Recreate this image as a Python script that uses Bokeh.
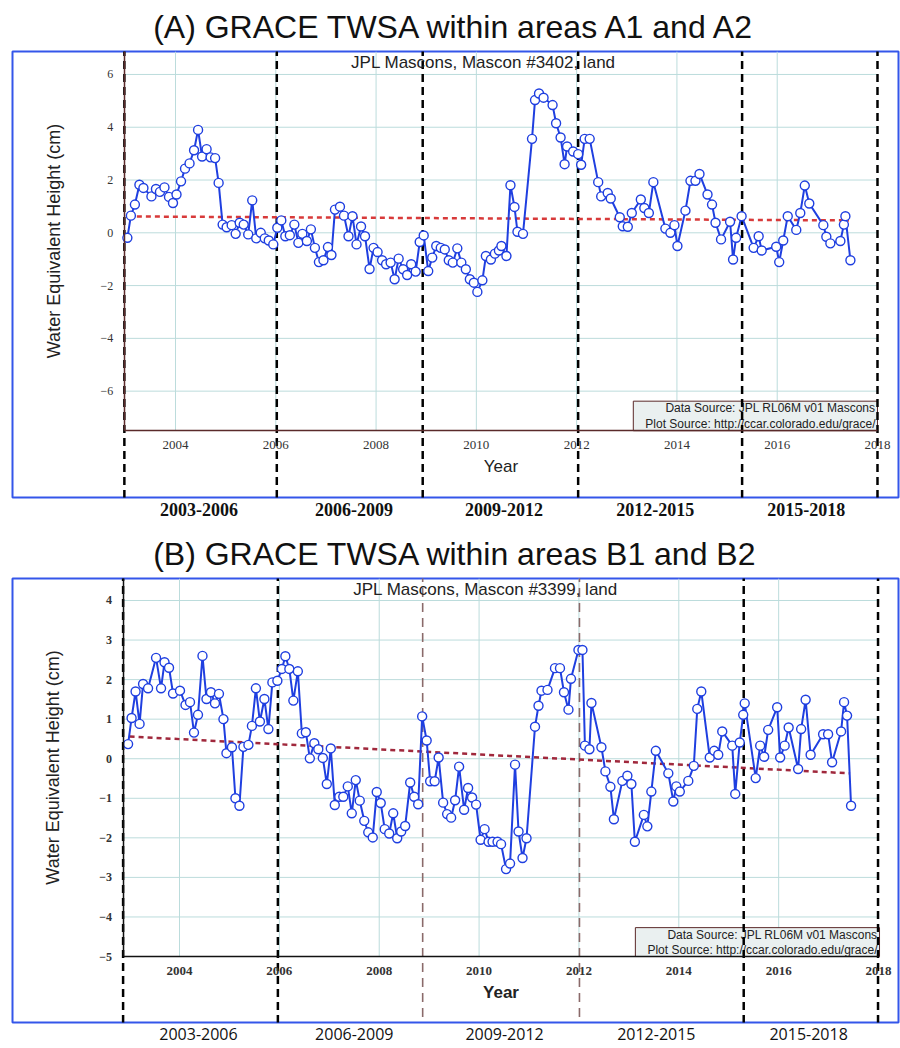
from bokeh.plotting import figure
from bokeh.models import Range1d, LinearAxis, FixedTicker
from bokeh.layouts import column
from bokeh.embed import file_html
from bokeh.resources import INLINE
from bokeh.core.properties import value

# ---------------- data: panel A (Mascon #3402) ----------------
a_year = [2003.04, 2003.11, 2003.19, 2003.28, 2003.36, 2003.52, 2003.61, 2003.69, 2003.78, 2003.87,
          2003.95, 2004.02, 2004.11, 2004.19, 2004.28, 2004.37, 2004.45, 2004.53, 2004.62, 2004.70,
          2004.79, 2004.86, 2004.94, 2005.02, 2005.12, 2005.20, 2005.28, 2005.36, 2005.45, 2005.53,
          2005.61, 2005.70, 2005.78, 2005.86, 2005.95, 2006.03, 2006.11, 2006.19, 2006.28, 2006.37,
          2006.45, 2006.53, 2006.62, 2006.70, 2006.78, 2006.86, 2006.95, 2007.04, 2007.11, 2007.18,
          2007.28, 2007.36, 2007.45, 2007.53, 2007.61, 2007.70, 2007.78, 2007.87, 2007.95, 2008.03,
          2008.12, 2008.20, 2008.29, 2008.37, 2008.45, 2008.54, 2008.62, 2008.70, 2008.79, 2008.87,
          2008.95, 2009.04, 2009.12, 2009.20, 2009.29, 2009.37, 2009.45, 2009.53, 2009.62, 2009.70,
          2009.79, 2009.87, 2009.95, 2010.02, 2010.12, 2010.19, 2010.29, 2010.37, 2010.45, 2010.50,
          2010.60, 2010.68, 2010.76, 2010.82, 2010.93, 2011.11, 2011.17, 2011.25, 2011.34, 2011.52,
          2011.59, 2011.68, 2011.76, 2011.81, 2011.93, 2012.03, 2012.09, 2012.16, 2012.26, 2012.43,
          2012.49, 2012.62, 2012.68, 2012.86, 2012.92, 2013.02, 2013.10, 2013.28, 2013.35, 2013.44,
          2013.53, 2013.77, 2013.87, 2013.95, 2014.01, 2014.17, 2014.27, 2014.37, 2014.45, 2014.61,
          2014.70, 2014.77, 2014.88, 2015.06, 2015.12, 2015.18, 2015.29, 2015.53, 2015.63, 2015.69,
          2015.98, 2016.04, 2016.12, 2016.21, 2016.38, 2016.46, 2016.55, 2016.64, 2016.92, 2016.98,
          2017.06, 2017.26, 2017.33, 2017.36, 2017.46]
a_twsa = [-0.19, 0.65, 1.07, 1.82, 1.70, 1.38, 1.66, 1.55, 1.72, 1.36,
          1.13, 1.45, 1.95, 2.43, 2.63, 3.13, 3.90, 2.89, 3.17, 2.86,
          2.83, 1.89, 0.31, 0.21, 0.29, -0.04, 0.38, 0.31, -0.06, 1.23,
          -0.21, 0.00, -0.21, -0.29, -0.44, 0.19, 0.47, -0.13, -0.09, 0.31,
          -0.38, -0.04, -0.31, 0.13, -0.57, -1.11, -1.04, -0.54, -0.84, 0.88,
          0.99, 0.65, -0.13, 0.63, -0.44, 0.24, -0.13, -1.37, -0.57, -0.73,
          -1.04, -1.19, -1.13, -1.76, -0.98, -1.38, -1.60, -1.19, -1.47, -0.35,
          -0.10, -1.45, -0.94, -0.50, -0.57, -0.63, -1.04, -1.13, -0.59, -1.13,
          -1.38, -1.76, -1.89, -2.24, -1.80, -0.88, -1.01, -0.79, -0.67, -0.50,
          -0.88, 1.80, 0.98, 0.04, -0.04, 3.56, 5.03, 5.28, 5.12, 4.84,
          4.15, 3.61, 2.60, 3.27, 3.08, 2.98, 2.58, 3.56, 3.56, 1.92,
          1.38, 1.51, 1.30, 0.59, 0.25, 0.23, 0.75, 1.26, 0.94, 0.75,
          1.92, 0.16, 0.00, 0.29, -0.50, 0.84, 1.97, 1.97, 2.23, 1.45,
          1.07, 0.38, -0.25, 0.42, -1.01, -0.19, 0.63, -0.57, -0.13, -0.67,
          -0.53, -1.11, -0.29, 0.63, 0.11, 0.75, 1.79, 1.11, 0.29, -0.15,
          -0.40, -0.31, 0.31, 0.63, -1.04]
a_trend_year = [2003.05, 2017.43]
a_trend = [0.62, 0.47]

# ---------------- data: panel B (Mascon #3399) ----------------
b_year = [2002.97, 2003.04, 2003.12, 2003.20, 2003.27, 2003.37, 2003.53, 2003.63, 2003.70, 2003.79,
          2003.87, 2004.01, 2004.12, 2004.21, 2004.29, 2004.37, 2004.46, 2004.54, 2004.63, 2004.71,
          2004.79, 2004.88, 2004.94, 2005.05, 2005.12, 2005.20, 2005.28, 2005.38, 2005.45, 2005.53,
          2005.61, 2005.70, 2005.78, 2005.86, 2005.96, 2006.05, 2006.12, 2006.20, 2006.28, 2006.37,
          2006.45, 2006.53, 2006.61, 2006.70, 2006.78, 2006.87, 2006.95, 2007.03, 2007.11, 2007.20,
          2007.28, 2007.37, 2007.45, 2007.53, 2007.61, 2007.70, 2007.78, 2007.87, 2007.95, 2008.03,
          2008.11, 2008.20, 2008.28, 2008.36, 2008.44, 2008.52, 2008.62, 2008.70, 2008.78, 2008.86,
          2008.95, 2009.02, 2009.11, 2009.19, 2009.28, 2009.36, 2009.44, 2009.52, 2009.60, 2009.70,
          2009.78, 2009.86, 2009.94, 2010.03, 2010.11, 2010.19, 2010.27, 2010.37, 2010.44, 2010.54,
          2010.62, 2010.72, 2010.79, 2010.87, 2010.95, 2011.12, 2011.19, 2011.25, 2011.37, 2011.52,
          2011.62, 2011.70, 2011.79, 2011.84, 2011.99, 2012.07, 2012.12, 2012.21, 2012.25, 2012.45,
          2012.53, 2012.63, 2012.70, 2012.87, 2012.97, 2013.05, 2013.12, 2013.30, 2013.37, 2013.45,
          2013.54, 2013.79, 2013.89, 2013.95, 2014.02, 2014.19, 2014.30, 2014.37, 2014.45, 2014.62,
          2014.71, 2014.79, 2014.87, 2015.07, 2015.13, 2015.22, 2015.29, 2015.32, 2015.54, 2015.63,
          2015.71, 2015.79, 2015.97, 2016.03, 2016.12, 2016.20, 2016.39, 2016.45, 2016.54, 2016.64,
          2016.89, 2016.99, 2017.07, 2017.25, 2017.31, 2017.37, 2017.45]
b_twsa = [0.37, 1.03, 1.70, 0.88, 1.89, 1.78, 2.55, 1.78, 2.44, 2.30,
          1.65, 1.72, 1.36, 1.43, 0.66, 1.11, 2.60, 1.51, 1.68, 1.40,
          1.64, 1.00, 0.14, 0.29, -1.00, -1.19, 0.30, 0.35, 0.83, 1.78,
          0.94, 1.51, 0.75, 1.93, 1.97, 2.27, 2.59, 2.27, 1.47, 2.21,
          0.64, 0.67, 0.01, 0.39, 0.24, 0.02, -0.64, 0.26, -1.17, -0.96,
          -0.96, -0.70, -1.38, -0.54, -1.06, -1.57, -1.86, -1.99, -0.84, -1.12,
          -1.78, -1.89, -1.38, -2.01, -1.84, -1.70, -0.60, -0.96, -1.15, 1.07,
          0.46, -0.57, -0.57, 0.03, -1.11, -1.40, -1.49, -1.05, -0.20, -1.29,
          -0.74, -0.98, -1.16, -2.05, -1.78, -2.10, -2.10, -2.10, -2.16, -2.79,
          -2.65, -0.15, -1.84, -2.51, -2.01, 0.81, 1.34, 1.72, 1.74, 2.29,
          2.29, 1.68, 1.24, 2.02, 2.75, 2.75, 0.33, 0.24, 1.41, 0.29,
          -0.32, -0.71, -1.53, -0.56, -0.43, -0.64, -2.10, -1.42, -1.71, -0.83,
          0.20, -0.37, -1.08, -0.70, -0.83, -0.56, -0.18, 1.26, 1.70, 0.03,
          0.20, 0.10, 0.69, 0.33, -0.89, 0.41, 1.11, 1.40, -0.49, 0.33,
          0.05, 0.73, 1.30, 0.03, 0.33, 0.79, -0.26, 0.75, 1.49, 0.10,
          0.62, 0.62, -0.09, 0.69, 1.43, 1.09, -1.19]
b_trend_year = [2003.00, 2017.43]
b_trend = [0.56, -0.37]

# ---------------- axes / annotation content ----------------
year_ticks = [2004, 2006, 2008, 2010, 2012, 2014, 2016, 2018]
a_yticks = [-6, -4, -2, 0, 2, 4, 6]
b_yticks = [-5, -4, -3, -2, -1, 0, 1, 2, 3, 4]
period_labels = ["2003-2006", "2006-2009", "2009-2012", "2012-2015", "2015-2018"]
a_bounds = [2002.98, 2006.02, 2008.93, 2012.03, 2015.30, 2018.00]
b_bounds = [2002.87, 2005.97, 2008.87, 2012.01, 2015.30, 2017.99]
a_period_pos = [2004.47, 2007.56, 2010.55, 2013.57, 2016.58]
b_period_pos = [2004.38, 2007.50, 2010.51, 2013.55, 2016.60]
source_lines = ["Data Source: JPL RL06M v01 Mascons",
                "Plot Source: http://ccar.colorado.edu/grace/"]

BLUE = "#1f3fe0"


def panel(cfg):
    xr = cfg["xrange"]
    yr = cfg["yrange"]
    p = figure(width=900, height=524, x_range=Range1d(*xr), y_range=Range1d(*yr),
               output_backend="svg", toolbar_location=None,
               x_axis_type=None, y_axis_type=None,
               min_border_left=12, min_border_right=2,
               min_border_top=cfg["top"], min_border_bottom=cfg["bottom"])
    p.xgrid.visible = False
    p.ygrid.visible = False
    p.outline_line_color = "#3456ea"
    p.outline_line_width = 2
    p.background_fill_color = "white"
    p.border_fill_color = "white"

    p.title.text = cfg["title"]
    p.title.align = "center"
    p.title.offset = cfg["title_offset"]
    p.title.text_font = "Liberation Sans"
    p.title.text_font_size = "32px"
    p.title.text_font_style = "normal"
    p.title.text_color = "#111111"
    p.title.standoff = 13

    x0, x1 = cfg["bounds"][0], cfg["bounds"][-1]
    ybot, ytop = cfg["ybounds"]

    # grid
    gx = [t for t in year_ticks if t < 2018]
    p.segment(x0=gx, y0=[ybot] * len(gx), x1=gx, y1=[yr[1]] * len(gx),
              line_color="#bcdcdc", line_width=1)
    gy = [v for v in cfg["yticks"] if v > ybot]
    p.segment(x0=[x0] * len(gy), y0=gy, x1=[x1] * len(gy), y1=gy,
              line_color="#bcdcdc", line_width=1)

    # data source box
    sb = cfg["srcbox"]
    p.quad(left=[sb[0]], right=[sb[1]], bottom=[ybot], top=[sb[2]],
           fill_color="#eaf0f0", line_color="#5a2828", line_width=1)
    p.text(x=[sb[3], sb[3]], y=cfg["src_y"], text=source_lines,
           text_align="right", text_baseline="middle",
           text_font=value("Liberation Sans"), text_font_size=value("12px"),
           text_color="#222222")

    # period boundary lines
    for b, (col, w, dash) in zip(cfg["bounds"], cfg["bstyles"]):
        p.segment(x0=[b], y0=[yr[0] - 1], x1=[b], y1=[yr[1] + 1],
                  line_color=col, line_width=w, line_dash=dash)

    # subtitle
    p.text(x=[cfg["sub_xy"][0]], y=[cfg["sub_xy"][1]], text=[cfg["subtitle"]],
           text_align="center", text_baseline="middle",
           text_font=value("Liberation Sans"), text_font_size=value("17px"),
           text_color="#222222")

    # trend
    p.line(cfg["trend_x"], cfg["trend_y"], line_color=cfg["trend_color"],
           line_width=2.5, line_dash="5 4")

    # series
    p.line(cfg["x"], cfg["y"], line_color=BLUE, line_width=2)
    p.scatter(cfg["x"], cfg["y"], marker="circle", size=9,
              fill_color="white", line_color=BLUE, line_width=1.4)

    # axes
    yax = LinearAxis(fixed_location=x0, bounds=(ybot, yr[1]),
                     ticker=FixedTicker(ticks=cfg["yticks"]),
                     axis_label="Water Equivalent Height (cm)")
    yax.axis_line_color = cfg["axis_color"]
    yax.axis_line_width = 1.5
    yax.major_tick_out = 0
    yax.major_tick_in = 0
    yax.minor_tick_out = 0
    yax.major_label_standoff = 11
    yax.major_label_text_font = "Liberation Serif"
    yax.major_label_text_font_size = "12px"
    yax.major_label_text_font_style = cfg["tick_style"]
    yax.major_label_text_color = "#333333"
    yax.axis_label_text_font = "Liberation Sans"
    yax.axis_label_text_font_size = "18px"
    yax.axis_label_text_font_style = "normal"
    yax.axis_label_text_color = "#222222"
    yax.axis_label_standoff = 34
    p.add_layout(yax, "left")

    xax = LinearAxis(fixed_location=ybot, bounds=(x0, x1),
                     ticker=FixedTicker(ticks=year_ticks), axis_label="Year")
    xax.axis_line_color = cfg["axis_color"]
    xax.axis_line_width = 1.5
    xax.major_tick_out = 0
    xax.major_tick_in = 0
    xax.minor_tick_out = 0
    xax.major_label_standoff = 10
    xax.major_label_text_font = "Liberation Serif"
    xax.major_label_text_font_size = "13px"
    xax.major_label_text_font_style = cfg["tick_style"]
    xax.major_label_text_color = "#333333"
    xax.axis_label_text_font = "Liberation Sans"
    xax.axis_label_text_font_size = "17px"
    xax.axis_label_text_font_style = cfg["year_style"]
    xax.axis_label_text_color = "#222222"
    xax.axis_label_standoff = 5
    p.add_layout(xax, "below")

    pax = LinearAxis(ticker=FixedTicker(ticks=cfg["ppos"]),
                     major_label_overrides={pos: lab for pos, lab in zip(cfg["ppos"], period_labels)})
    pax.axis_line_color = None
    pax.major_tick_out = 0
    pax.major_tick_in = 0
    pax.minor_tick_out = 0
    pax.major_label_standoff = 5
    pax.major_label_text_font = cfg["pfont"]
    pax.major_label_text_font_size = cfg["psize"]
    pax.major_label_text_font_style = cfg["pstyle"]
    pax.major_label_text_color = "#111111"
    p.add_layout(pax, "below")
    return p


thick = ("black", 2.5, "8 5")
thin = ("#8a6a6a", 1.6, "9 6")

pA = panel(dict(
    xrange=(2000.749, 2018.419), yrange=(-10.03, 6.87), top=50, bottom=27,
    title="(A) GRACE TWSA within areas A1 and A2", title_offset=7,
    bounds=a_bounds, bstyles=[thick] * 6, ybounds=(-7.5, 6.87), yticks=a_yticks,
    srcbox=(2013.13, 2018.0, -6.38, 2017.96), src_y=[-6.62, -7.23],
    sub_xy=(2010.14, 6.46), subtitle="JPL Mascons, Mascon #3402, land",
    trend_x=a_trend_year, trend_y=a_trend, trend_color="#d83a3a",
    x=a_year, y=a_twsa, axis_color="#5a2a2a", tick_style="normal", year_style="normal",
    ppos=a_period_pos, pfont="Liberation Serif", psize="18px", pstyle="bold"))

pB = panel(dict(
    xrange=(2000.655, 2018.40), yrange=(-6.668, 4.556), top=54, bottom=26,
    title="(B) GRACE TWSA within areas B1 and B2", title_offset=6,
    bounds=b_bounds, bstyles=[thick, thick, thin, thin, thick, thick],
    ybounds=(-5.0, 4.556), yticks=b_yticks,
    srcbox=(2013.13, 2018.02, -4.27, 2017.98), src_y=[-4.45, -4.83],
    sub_xy=(2010.13, 4.27), subtitle="JPL Mascons, Mascon #3399, land",
    trend_x=b_trend_year, trend_y=b_trend, trend_color="#a0283c",
    x=b_year, y=b_twsa, axis_color="#111111", tick_style="bold", year_style="bold",
    ppos=b_period_pos, pfont="Open Sans", psize="16px", pstyle="normal"))

layout = column(pA, pB, spacing=0)
open("out.html", "w").write(file_html(layout, INLINE))
